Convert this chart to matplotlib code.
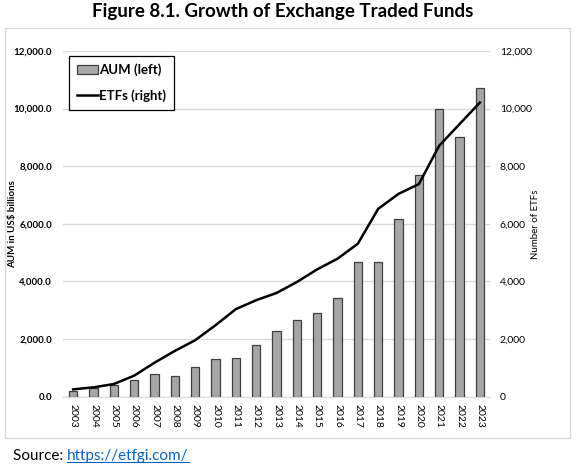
import matplotlib
matplotlib.use("Agg")
import matplotlib.pyplot as plt
from matplotlib.patches import Rectangle
from matplotlib.lines import Line2D
from matplotlib.ticker import FuncFormatter, MultipleLocator

plt.rcParams['font.family'] = ['Lato', 'DejaVu Sans']

# 數據
years = [str(y) for y in range(2003, 2024)]
aum = [210, 310, 410, 580, 800, 710, 1040, 1300, 1345, 1780, 2290,
       2670, 2890, 3420, 4690, 4670, 6160, 7700, 10000, 9000, 10720]
etfs = [255, 325, 440, 730, 1180, 1590, 1960, 2480, 3040, 3350, 3600,
        3980, 4420, 4790, 5310, 6520, 7040, 7380, 8710, 9460, 10210]

W, H = 576, 466
fig = plt.figure(figsize=(W / 100, H / 100), dpi=100)

# 外框
fig.add_artist(Rectangle((5 / W, 1 - 438 / H), (570 - 5) / W, (438 - 28) / H,
                         transform=fig.transFigure, fill=False,
                         edgecolor='#d9d9d9', linewidth=1))

ax = fig.add_axes([63 / W, 1 - 396.7 / H, (490 - 63) / W, (396.7 - 51) / H])
x = list(range(len(years)))
bars = ax.bar(x, aum, width=0.42, color='#a6a6a6', edgecolor='#404040',
              linewidth=0.9, zorder=3, label='AUM (left)')
ax.set_xlim(-0.5, len(years) - 0.5)
ax.set_ylim(0, 12000)
ax.yaxis.set_major_locator(MultipleLocator(2000))
ax.yaxis.set_major_formatter(FuncFormatter(lambda v, p: f'{v:,.1f}'))
ax.grid(axis='y', color='#d9d9d9', linewidth=1, zorder=0)
ax.set_xticks(x)
ax.set_xticklabels(years, rotation=-90, fontsize=7.5)
for s in ['top', 'right', 'left']:
    ax.spines[s].set_visible(False)
ax.spines['bottom'].set_color('#d9d9d9')
ax.tick_params(axis='both', length=0, labelsize=7, pad=8)
ax.tick_params(axis='x', labelsize=7.5, pad=5)
for t in ax.get_yticklabels():
    t.set_fontweight('bold')
ax.set_ylabel('AUM in US$ billions', fontsize=7, fontweight='bold')
ax.yaxis.set_label_coords((17 - 63) / 427, 0.5)

ax2 = ax.twinx()
line, = ax2.plot(x, etfs, color='black', linewidth=1.8, zorder=4, label='ETFs (right)')
ax2.set_ylim(0, 12000)
ax2.yaxis.set_major_locator(MultipleLocator(2000))
ax2.yaxis.set_major_formatter(FuncFormatter(lambda v, p: f'{v:,.0f}'))
for s in ['top', 'right', 'left', 'bottom']:
    ax2.spines[s].set_visible(False)
ax2.tick_params(axis='y', length=0, labelsize=7.5, pad=7)
ax2.set_ylabel('Number of ETFs', fontsize=7)
ax2.yaxis.set_label_coords((531 - 63) / 427, 0.5)

leg = ax2.legend([bars, line], ['AUM (left)', 'ETFs (right)'],
                 loc='upper left', bbox_to_anchor=(69 / W, 1 - 55.7 / H),
                 bbox_transform=fig.transFigure, borderaxespad=0,
                 fancybox=False, framealpha=1, edgecolor='black',
                 prop={'size': 9.5, 'weight': 'bold'}, labelspacing=1.0,
                 handlelength=1.6, handletextpad=0.1, borderpad=0.6)
leg.get_frame().set_linewidth(0.9)

fig.text(283 / W, 1 - 12 / H, 'Figure 8.1. Growth of Exchange Traded Funds',
         ha='center', va='center', fontsize=13.5, fontweight='bold')

src = fig.text(13 / W, 1 - 456 / H, 'Source: ', ha='left', va='center', fontsize=11)
fig.canvas.draw()
r = fig.canvas.get_renderer()
bb = src.get_window_extent(r)
link = fig.text(bb.x1 / W, 1 - 456 / H, 'https://etfgi.com/', ha='left',
                va='center', fontsize=11, color='#0563c1')
lb = link.get_window_extent(r)
fig.add_artist(Line2D([lb.x0 / W, lb.x1 / W], [(lb.y0 + 1) / H] * 2,
                      color='#0563c1', linewidth=0.8, transform=fig.transFigure))

fig.savefig('out.png', dpi=100)
